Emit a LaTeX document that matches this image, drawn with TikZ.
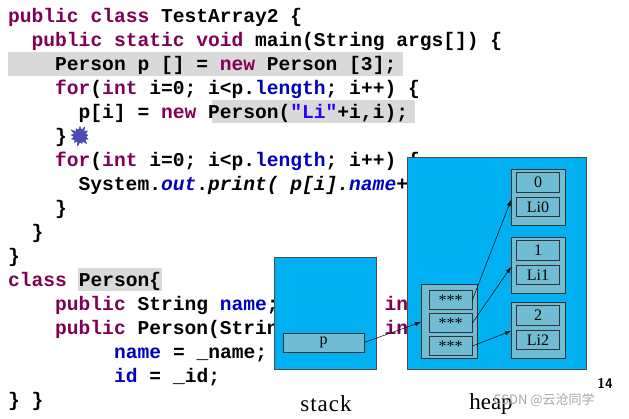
\documentclass[tikz,border=0pt]{standalone}
\usepackage{fontspec}
\setmainfont{Liberation Serif}
\setmonofont{Liberation Mono}
\newfontfamily\cjk{Noto Sans CJK SC}
\usepackage{tikz}
\usetikzlibrary{shapes.symbols,arrows.meta}
\definecolor{kwc}{HTML}{7F0055}
\definecolor{fldc}{HTML}{0000C0}
\definecolor{strc}{HTML}{2A00FF}
\definecolor{memblue}{HTML}{00B0F0}
\definecolor{cellc}{HTML}{70BCD2}
\definecolor{hlgray}{HTML}{D9D9D9}
\newcommand{\kw}[1]{\textcolor{kwc}{#1}}
\newcommand{\fld}[1]{\textcolor{fldc}{#1}}
\tikzset{
  code/.style={anchor=base west, inner sep=0pt, font=\fontsize{19.6}{24}\selectfont\ttfamily\bfseries},
  mem/.style={draw=black!70, line width=0.8pt, fill=memblue},
  box/.style={draw=black!80, line width=0.7pt, fill=cellc},
  cell/.style={draw=black!80, line width=0.7pt, fill=cellc, minimum width=43pt, minimum height=19.5pt, inner sep=0pt, font=\fontsize{16}{16}\selectfont},
  ref/.style={draw, line width=0.5pt, -{Latex[length=6pt,width=4pt]}}
}
\begin{document}
\begin{tikzpicture}[x=1pt,y=-1pt]
\useasboundingbox (0,0) rectangle (629,418);
% highlights
\fill[hlgray] (8,52) rectangle (403,76);
\fill[hlgray] (212,100) rectangle (415,123);
\fill[hlgray] (78,268) rectangle (162,291);
% code
\node[code] (l1) at (8,22) {\kw{public class} TestArray2 \{};
\node[code] (l2) at (31.5,46) {\kw{public static void} main(String args[]) \{};
\node[code] (l3) at (55,70) {Person p [] = \kw{new} Person [3];};
\node[code] (l4) at (55,94) {\kw{for}(\kw{int} i=0; i<p.\fld{length}; i++) \{};
\node[code] (l5) at (78.5,118) {p[i] = \kw{new} Person(\textcolor{strc}{"Li"}+i,i);};
\node[code] (l6) at (55,142) {\}};
\node[starburst, starburst points=13, starburst point height=5pt, fill=blue!40!gray, draw=blue!50!gray, minimum size=22pt, inner sep=0pt] (burst) at (80,136) {};
\node[code] (l7) at (55,166) {\kw{for}(\kw{int} i=0; i<p.\fld{length}; i++) \{};
\node[code] (l8) at (78.5,190) {System.\fld{\itshape out}.\itshape print( p[i].\fld{name}+" ");};
\node[code] (l9) at (55,214) {\}};
\node[code] (l10) at (31.5,238) {\}};
\node[code] (l11) at (8,262) {\}};
\node[code] (l12) at (8,286) {\kw{class} Person\{};
\node[code] (l13) at (55,310) {\kw{public} String \fld{name}; \kw{private int} \fld{id};};
\node[code] (l14) at (55,334) {\kw{public} Person(String \_name, \kw{int} \_id) \{};
\node[code] (l15) at (114,358) {\fld{name} = \_name;};
\node[code] (l16) at (114,382) {\fld{id} = \_id;};
\node[code] (l17) at (8,406) {\} \}};
% memory
\draw[mem] (274,257) rectangle (376,369);
\draw[mem] (407,157) rectangle (586,369);
\node[cell, minimum width=81pt, minimum height=19pt] (p) at (323.5,342.5) {p};
\draw[box] (421,284) rectangle (477,358);
\coordinate (arr) at (421,322);
\node[cell] (a0) at (450.5,300) {***};
\node[cell] (a1) at (450.5,323) {***};
\node[cell] (a2) at (450.5,346) {***};
\draw[box] (511,169) rectangle (565,225);
\draw[box] (511,237) rectangle (565,293);
\draw[box] (511,302) rectangle (565,358);
\node[cell] (o0i) at (538,182.5) {0};
\node[cell] (o0n) at (538,207) {Li0};
\node[cell] (o1i) at (538,250.5) {1};
\node[cell] (o1n) at (538,275) {Li1};
\node[cell] (o2i) at (538,315.5) {2};
\node[cell] (o2n) at (538,340) {Li2};
\coordinate (o0) at (511,200);
\coordinate (o1) at (511,267);
\coordinate (o2) at (511,331);
\draw[ref] (p.east) -- (arr);
\draw[ref] (a0.east) -- (o0);
\draw[ref] (a1.east) -- (o1);
\draw[ref] (a2.east) -- (o2);
% labels
\node[font=\fontsize{23}{23}\selectfont, inner sep=0pt] (stk) at (326,404) {s\kern1pt t\kern1pt a\kern1pt c\kern1pt k};
\node[font=\fontsize{23}{23}\selectfont, inner sep=0pt] (hp) at (491,404) {heap};
\node[font=\sffamily\bfseries\fontsize{14}{14}\selectfont] (pg) at (605,383) {14};
\node[font=\cjk\fontsize{13}{13}\selectfont, text=black!35] (wm) at (544,400) {CSDN @云沧同学};
\end{tikzpicture}
\end{document}
